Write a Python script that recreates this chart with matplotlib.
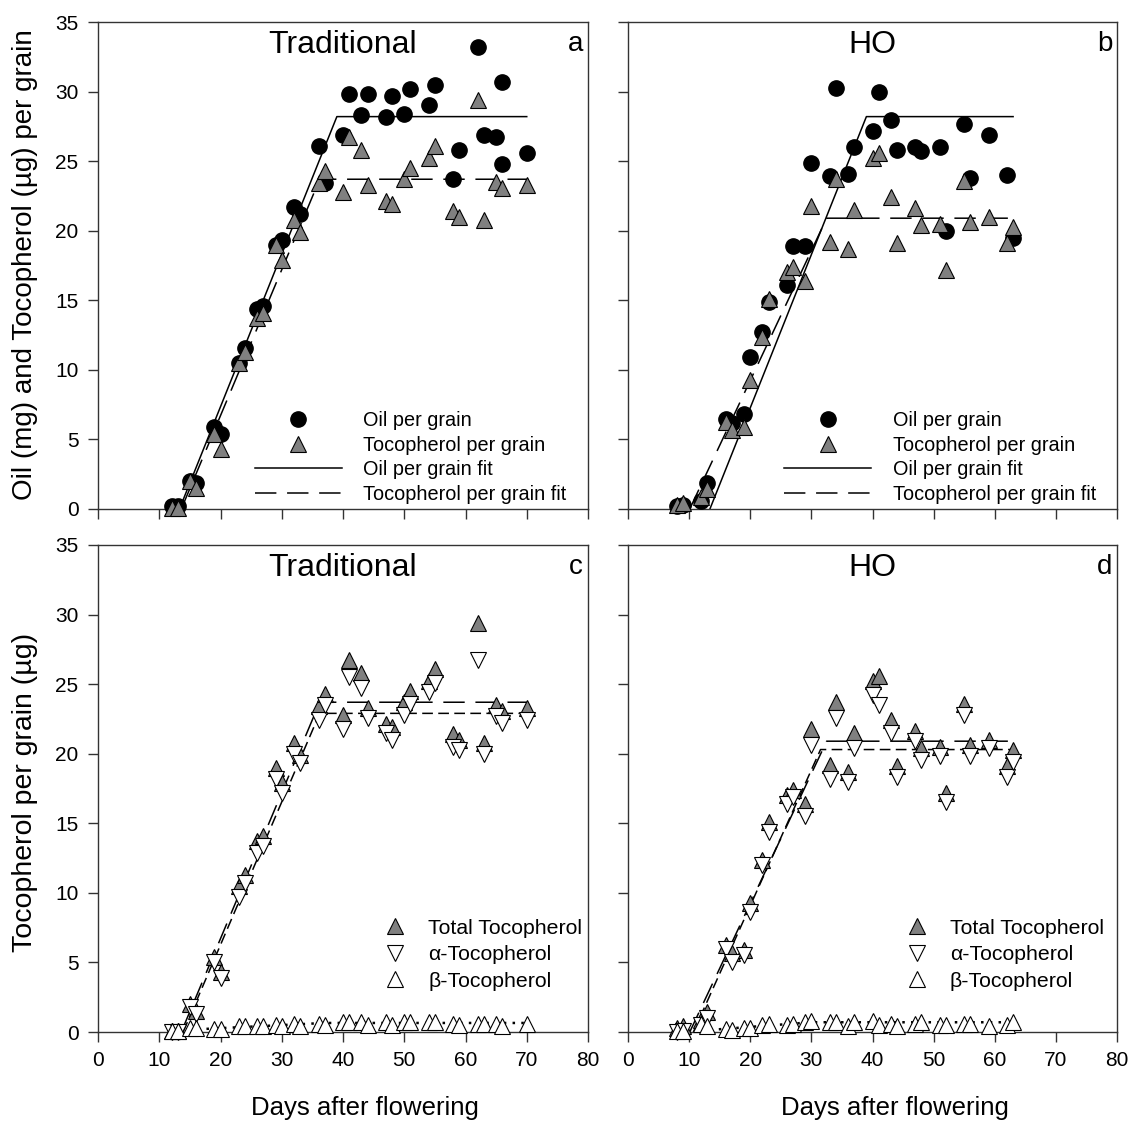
"""Oil and tocopherol accumulation per grain, Traditional vs HO hybrids."""

import matplotlib
matplotlib.use("Agg")
import matplotlib.pyplot as plt
from matplotlib.lines import Line2D

plt.rcParams["font.family"] = ["Liberation Sans", "DejaVu Sans"]

# ---- Traditional hybrid ----
trad_oil_days = [12, 13, 15, 16, 19, 20, 23, 24, 26, 27, 29, 30, 32, 33, 36, 37, 40, 41,
                 43, 44, 47, 48, 50, 51, 54, 55, 58, 59, 62, 63, 65, 66, 66, 70]
trad_oil = [0.2, 0.2, 2.0, 1.9, 5.9, 5.4, 10.5, 11.6, 14.4, 14.6, 19.0, 19.3, 21.7, 21.2,
            26.1, 23.4, 26.9, 29.8, 28.3, 29.8, 28.2, 29.7, 28.4, 30.2, 29.0, 30.5,
            23.7, 25.8, 33.2, 26.9, 26.7, 30.7, 24.8, 25.6]

trad_days = [12, 13, 15, 16, 19, 20, 23, 24, 26, 27, 29, 30, 32, 33, 36, 37, 40, 41,
             43, 44, 47, 48, 50, 51, 54, 55, 58, 59, 62, 63, 65, 66, 70]
trad_toco = [0.1, 0.1, 2.0, 1.5, 5.4, 4.3, 10.5, 11.3, 13.7, 14.1, 19.0, 17.9, 20.8, 19.9,
             23.4, 24.3, 22.8, 26.7, 25.8, 23.3, 22.1, 21.9, 23.7, 24.5, 25.2, 26.1,
             21.4, 21.0, 29.4, 20.8, 23.5, 23.1, 23.3]
trad_alpha = [0.0, 0.0, 1.8, 1.3, 5.0, 3.9, 9.7, 10.7, 12.9, 13.4, 18.2, 17.2, 20.0, 19.3,
              22.4, 23.5, 21.8, 25.5, 24.7, 22.6, 21.5, 21.0, 22.8, 23.6, 24.4, 25.1,
              20.5, 20.3, 26.7, 20.0, 22.7, 22.2, 22.4]
trad_beta = [0.05, 0.05, 0.3, 0.3, 0.2, 0.2, 0.4, 0.4, 0.4, 0.4, 0.5, 0.4, 0.6, 0.4,
             0.6, 0.5, 0.7, 0.7, 0.7, 0.5, 0.7, 0.5, 0.7, 0.7, 0.7, 0.7, 0.6, 0.5,
             0.6, 0.6, 0.6, 0.4, 0.6]

# ---- HO hybrid ----
ho_days = [8, 9, 12, 13, 16, 17, 19, 20, 22, 23, 26, 27, 29, 30, 33, 34, 36, 37, 40, 41,
           43, 44, 47, 48, 51, 52, 55, 56, 59, 62, 63]
ho_oil = [0.2, 0.3, 0.6, 1.85, 6.5, 6.2, 6.8, 10.9, 12.75, 14.9, 16.1, 18.9, 18.9, 24.9,
          23.9, 30.25, 24.1, 26.05, 27.2, 29.95, 27.95, 25.8, 26.0, 25.75, 26.0, 20.0,
          27.7, 23.8, 26.85, 24.0, 19.5]
ho_toco = [0.26, 0.4, 0.86, 1.46, 6.25, 5.65, 5.9, 9.25, 12.36, 15.1, 17.0, 17.4, 16.4,
           21.8, 19.2, 23.75, 18.7, 21.5, 25.2, 25.6, 22.4, 19.1, 21.6, 20.4, 20.5, 17.2,
           23.6, 20.6, 21.0, 19.1, 20.3]
ho_alpha = [0.0, 0.1, 0.5, 1.0, 6.0, 5.05, 5.5, 8.6, 12.0, 14.4, 16.4, 16.9, 15.5, 20.6,
            18.2, 22.55, 18.0, 20.4, 24.2, 23.5, 21.5, 18.35, 20.9, 19.55, 19.8, 16.55,
            22.8, 19.8, 20.4, 18.3, 19.4]
ho_beta = [0.1, 0.1, 0.6, 0.4, 0.2, 0.15, 0.3, 0.3, 0.5, 0.6, 0.5, 0.6, 0.7, 0.8, 0.7,
           0.7, 0.4, 0.7, 0.8, 0.5, 0.6, 0.4, 0.6, 0.7, 0.5, 0.5, 0.6, 0.6, 0.4, 0.5, 0.7]

# ---- linear-plateau fits (breakpoints) ----
trad_oil_fit = ([13.3, 39.0, 70], [0, 28.2, 28.2])
trad_toco_fit = ([13.6, 36.2, 70], [0, 23.7, 23.7])
trad_alpha_fit = ([13.9, 36.2, 70], [0, 22.9, 22.9])
trad_beta_fit = ([12, 37, 70], [0.1, 0.65, 0.65])
ho_oil_fit = ([13.4, 39.0, 63], [0, 28.2, 28.2])
ho_toco_fit = ([10.1, 32.5, 63], [0, 20.9, 20.9])
ho_alpha_fit = ([10.7, 31.5, 63], [0, 20.3, 20.3])
ho_beta_fit = ([12, 30, 63], [0.1, 0.7, 0.7])

GREY = "#808080"
FRAME = "#333333"
LONG_DASH = (0, (14, 7))
SHORT_DASH = (0, (7, 3.5))
DOTTED = (0, (1, 2.5))


def style_axes(ax, xlabels=True, ylabels=True):
    ax.set_xlim(0, 80)
    ax.set_ylim(0, 35)
    ax.set_xticks(range(0, 81, 10))
    ax.set_yticks(range(0, 36, 5))
    ax.tick_params(direction="out", length=7, width=1, color=FRAME, labelsize=15, pad=7,
                   top=False, right=False)
    if not xlabels:
        ax.set_xticklabels([])
    if not ylabels:
        ax.set_yticklabels([])
    for s in ax.spines.values():
        s.set_color(FRAME)
        s.set_linewidth(1)


def panel_text(ax, title, letter):
    ax.text(0.5, 0.936, title, transform=ax.transAxes, ha="center", va="baseline", fontsize=23)
    ax.text(0.99, 0.94, letter, transform=ax.transAxes, ha="right", va="baseline", fontsize=20)


def plot_oil_panel(ax, oil_days, oil, days, toco, oil_fit, toco_fit, title, letter):
    ax.plot(*oil_fit, color="black", lw=1.1, zorder=2)
    ax.plot(*toco_fit, color="black", lw=1.1, ls=LONG_DASH, zorder=2)
    ax.plot(oil_days, oil, "o", ms=11, mfc="black", mec="black", zorder=3, clip_on=False)
    ax.plot(days, toco, "^", ms=11, mfc=GREY, mec="black", mew=0.8, zorder=4, clip_on=False)
    panel_text(ax, title, letter)
    handles = [
        Line2D([], [], ls="none", marker="o", ms=11, mfc="black", mec="black"),
        Line2D([], [], ls="none", marker="^", ms=11, mfc=GREY, mec="black", mew=0.8),
        Line2D([], [], color="black", lw=1.1),
        Line2D([], [], color="black", lw=1.1, ls=LONG_DASH),
    ]
    labels = ["Oil per grain", "Tocopherol per grain", "Oil per grain fit",
              "Tocopherol per grain fit"]
    ax.legend(handles, labels, loc="lower left", bbox_to_anchor=(0.32, 0.01), frameon=False,
              fontsize=14.3, handlelength=4.38, handletextpad=1.06, labelspacing=0.29,
              borderpad=0, borderaxespad=0)


def plot_toco_panel(ax, days, total, alpha, beta, total_fit, alpha_fit, beta_fit, title,
                    letter, leg_x):
    ax.plot(*total_fit, color="black", lw=1.1, ls=LONG_DASH, zorder=2)
    ax.plot(*alpha_fit, color="black", lw=1.1, ls=SHORT_DASH, zorder=2)
    ax.plot(*beta_fit, color="black", lw=1.8, ls=DOTTED, zorder=2)
    ax.plot(days, total, "^", ms=11, mfc=GREY, mec="black", mew=0.8, zorder=3, clip_on=False)
    ax.plot(days, alpha, "v", ms=11, mfc="white", mec="black", mew=0.8, zorder=4,
            clip_on=False)
    ax.plot(days, beta, "^", ms=11, mfc="white", mec="black", mew=0.8, zorder=5,
            clip_on=False)
    panel_text(ax, title, letter)
    handles = [
        Line2D([], [], ls="none", marker="^", ms=11, mfc=GREY, mec="black", mew=0.8),
        Line2D([], [], ls="none", marker="v", ms=11, mfc="white", mec="black", mew=0.8),
        Line2D([], [], ls="none", marker="^", ms=11, mfc="white", mec="black", mew=0.8),
    ]
    labels = ["Total Tocopherol", "\u03b1-Tocopherol", "\u03b2-Tocopherol"]
    ax.legend(handles, labels, loc="lower left", bbox_to_anchor=(leg_x, 0.085), frameon=False,
              fontsize=15.3, handlelength=2, handletextpad=0.55, labelspacing=0.35,
              borderpad=0, borderaxespad=0)


fig = plt.figure(figsize=(11.31, 11.21), dpi=100)
W, H = 1131, 1121
ax_a = fig.add_axes([98 / W, 1 - 509 / H, 490 / W, 487 / H])
ax_b = fig.add_axes([628 / W, 1 - 509 / H, 489 / W, 487 / H])
ax_c = fig.add_axes([98 / W, 1 - 1032 / H, 490 / W, 487 / H])
ax_d = fig.add_axes([628 / W, 1 - 1032 / H, 489 / W, 487 / H])

plot_oil_panel(ax_a, trad_oil_days, trad_oil, trad_days, trad_toco, trad_oil_fit,
               trad_toco_fit, "Traditional", "a")
plot_oil_panel(ax_b, ho_days, ho_oil, ho_days, ho_toco, ho_oil_fit, ho_toco_fit, "HO", "b")
plot_toco_panel(ax_c, trad_days, trad_toco, trad_alpha, trad_beta, trad_toco_fit,
                trad_alpha_fit, trad_beta_fit, "Traditional", "c", 0.563)
plot_toco_panel(ax_d, ho_days, ho_toco, ho_alpha, ho_beta, ho_toco_fit, ho_alpha_fit,
                ho_beta_fit, "HO", "d", 0.5475)

style_axes(ax_a, xlabels=False)
style_axes(ax_b, xlabels=False, ylabels=False)
style_axes(ax_c)
style_axes(ax_d, ylabels=False)

fig.text(25 / W, 1 - 265 / H, "Oil (mg) and Tocopherol (\u00b5g) per grain", rotation=90,
         ha="center", va="center", fontsize=20)
fig.text(25 / W, 1 - 792 / H, "Tocopherol per grain (\u00b5g)", rotation=90,
         ha="center", va="center", fontsize=20.5)
for ax in (ax_c, ax_d):
    ax.text(0.545, -0.170, "Days after flowering", transform=ax.transAxes, ha="center",
            va="baseline", fontsize=18.5)

fig.savefig("out.png", dpi=100)
plt.close(fig)
